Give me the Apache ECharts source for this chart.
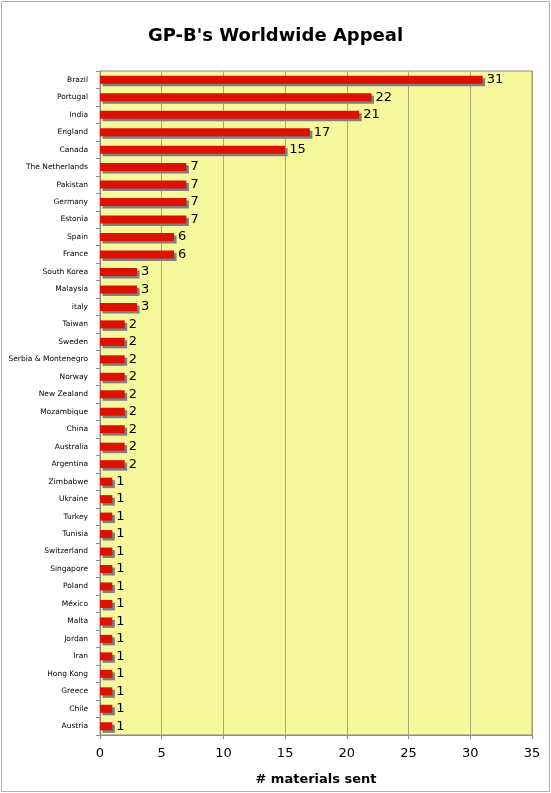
<!DOCTYPE html>
<html>
<head>
<meta charset="utf-8">
<script src="https://cdn.jsdelivr.net/npm/echarts@6/dist/echarts.min.js"></script>
<style>
  html, body { margin: 0; padding: 0; background: #fff; }
  #chart { width: 551px; height: 793px; }
</style>
</head>
<body>
<div id="chart"></div>
<script>
// countries, top to bottom as in the picture
var countries = [
  "Brazil", "Portugal", "India", "England", "Canada", "The Netherlands",
  "Pakistan", "Germany", "Estonia", "Spain", "France", "South Korea",
  "Malaysia", "italy", "Taiwan", "Sweden", "Serbia & Montenegro", "Norway",
  "New Zealand", "Mozambique", "China", "Australia", "Argentina", "Zimbabwe",
  "Ukraine", "Turkey", "Tunisia", "Switzerland", "Singapore", "Poland",
  "México", "Malta", "Jordan", "Iran", "Hong Kong", "Greece", "Chile", "Austria"
];
// # materials sent per country
var materialsSent = [
  31, 22, 21, 17, 15, 7,
  7, 7, 7, 6, 6, 3,
  3, 3, 2, 2, 2, 2,
  2, 2, 2, 2, 2, 1,
  1, 1, 1, 1, 1, 1,
  1, 1, 1, 1, 1, 1, 1, 1
];
var xTicks = [0, 5, 10, 15, 20, 25, 30, 35];

var myChart = echarts.init(document.getElementById("chart"));

var option = {
  animation: false,
  backgroundColor: "#fff",
  title: {
    text: "GP-B's Worldwide Appeal",
    left: "center",
    top: 22,
    textStyle: { fontFamily: "DejaVu Sans", fontSize: 18, fontWeight: "bold", color: "#000" }
  },
  graphic: [{
    type: "rect",
    shape: { x: 1.5, y: 1.5, width: 548, height: 790 },
    style: { fill: "none", stroke: "#b0b0b0", lineWidth: 1 },
    silent: true
  }],
  grid: {
    left: 100, right: 19, top: 71, bottom: 58,
    show: true,
    backgroundColor: "#f7f79c",
    borderColor: "#8c8c8c",
    borderWidth: 1
  },
  xAxis: {
    type: "value",
    min: xTicks[0],
    max: xTicks[xTicks.length - 1],
    interval: 5,
    name: "# materials sent",
    nameLocation: "middle",
    nameGap: 38,
    nameTextStyle: { fontFamily: "DejaVu Sans", fontSize: 13, fontWeight: "bold", color: "#000" },
    axisLine: { show: true, lineStyle: { color: "#8c8c8c" } },
    axisTick: { show: true, length: 4, inside: false, lineStyle: { color: "#8c8c8c" } },
    axisLabel: { fontFamily: "DejaVu Sans", fontSize: 13, color: "#000", margin: 12 },
    splitLine: { show: true, lineStyle: { color: "#a8a880", width: 1 } }
  },
  yAxis: {
    type: "category",
    data: countries,
    inverse: true,
    axisLine: { show: true, lineStyle: { color: "#8c8c8c" } },
    axisTick: { show: true, length: 4, lineStyle: { color: "#8c8c8c" } },
    axisLabel: { fontFamily: "DejaVu Sans", fontSize: 7.5, color: "#000", margin: 12 },
    splitLine: { show: false }
  },
  series: [{
    type: "bar",
    data: materialsSent,
    barWidth: 8,
    itemStyle: {
      color: "#dd1100",
      shadowColor: "#7f7f7f",
      shadowBlur: 0,
      shadowOffsetX: 2.5,
      shadowOffsetY: 2.5
    },
    label: {
      show: true,
      position: "right",
      distance: 4,
      fontFamily: "DejaVu Sans",
      fontSize: 13,
      color: "#000"
    }
  }]
};

myChart.setOption(option);
</script>
</body>
</html>
